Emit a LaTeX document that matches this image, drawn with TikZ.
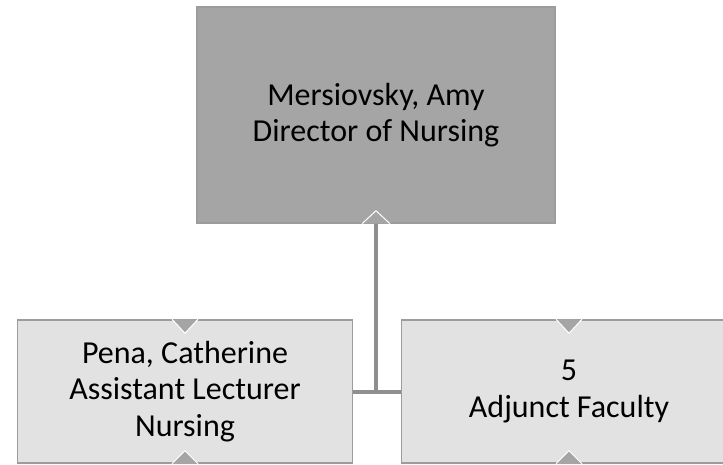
\documentclass[tikz,border=0pt]{standalone}
\usepackage{fontspec}
\setmainfont{Carlito}
\definecolor{headgray}{HTML}{A5A5A5}
\definecolor{staffgray}{HTML}{E2E2E2}
\definecolor{rimgray}{HTML}{9C9C9C}
\definecolor{linkgray}{HTML}{8F8F8F}
\tikzset{
  person/.style={draw=rimgray, line width=1.5pt, fill=staffgray, align=center,
    minimum width=335pt, minimum height=143pt, inner sep=0pt,
    font=\fontsize{32}{36.5}\selectfont},
  head/.style={person, fill=headgray, minimum width=358pt, minimum height=216pt},
  link/.style={draw=linkgray, line width=4pt},
  tab/.style={fill=headgray, draw=white, line width=1pt, line join=miter}
}
\begin{document}
\begin{tikzpicture}[x=1pt,y=-1pt]
  \useasboundingbox (0,0) rectangle (723,465);
  \node[head] (director) at (376,115) {Mersiovsky, Amy\\Director of Nursing};
  \node[person] (pena) at (185,391.5) {Pena, Catherine\\Assistant Lecturer\\Nursing};
  \node[person] (adjunct) at (569,391.5) {5\\Adjunct Faculty};
  % connectors
  \draw[link] (director.south) -- (director.south |- pena.east);
  \draw[link] (pena.east) -- (adjunct.west);
  % little tabs
  \filldraw[tab] ([xshift=-14pt]director.south) -- ([yshift=13pt]director.south) -- ([xshift=14pt]director.south);
  \foreach \n in {pena,adjunct} {
    \filldraw[tab] ([xshift=-13pt]\n.north) -- ([yshift=-14pt]\n.north) -- ([xshift=13pt]\n.north);
    \filldraw[tab] ([xshift=-13pt]\n.south) -- ([yshift=13pt]\n.south) -- ([xshift=13pt]\n.south);
  }
\end{tikzpicture}
\end{document}
